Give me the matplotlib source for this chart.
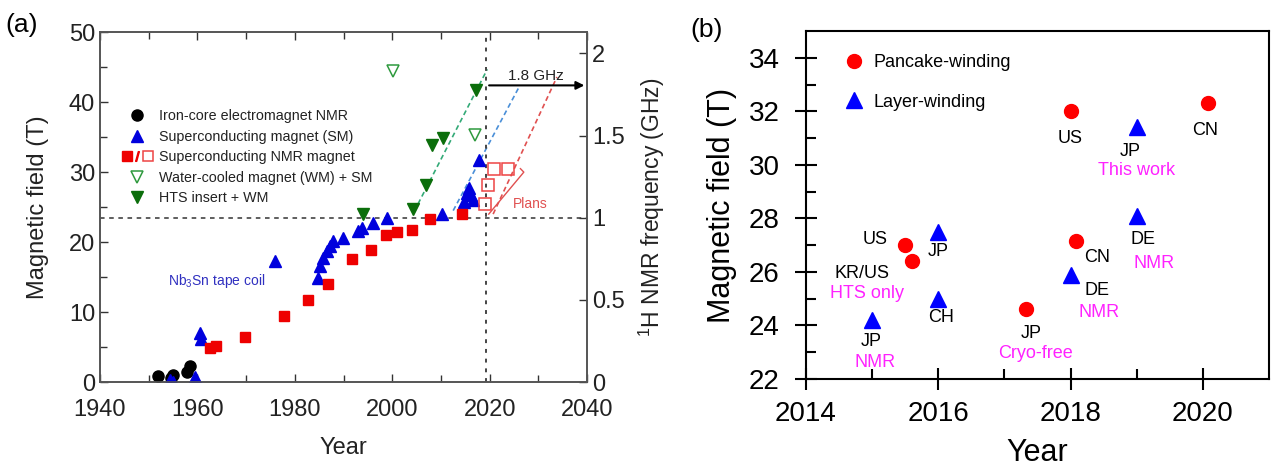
import matplotlib.pyplot as plt
from matplotlib.lines import Line2D
from matplotlib.legend_handler import HandlerTuple

plt.rcParams['font.family'] = ['Liberation Sans', 'DejaVu Sans']
plt.rcParams['mathtext.fontset'] = 'custom'
plt.rcParams['mathtext.rm'] = 'Liberation Sans'

# ---- panel (a): history of high-field magnets ----
iron_year = [1952, 1954.5, 1955, 1957.8, 1958.5]
iron_field = [0.8, 0.6, 1.0, 1.5, 2.3]

sm_year = [1954.4, 1955, 1959.6, 1960.5, 1960.7, 1976, 1984.8, 1985.2, 1985.8,
           1986.6, 1987.2, 1987.8, 1989.9, 1993, 1993.8, 1996, 1998.9, 2010.2,
           2014.8, 2015.3, 2015.8, 2016.2, 2016.5, 2017.8]
sm_field = [0.3, 0.0, 0.7, 7.0, 6.2, 17.3, 14.9, 16.6, 17.7, 18.7, 19.4, 20.1,
            20.6, 21.6, 22.0, 22.7, 23.4, 24.0, 25.8, 27.0, 27.8, 26.8, 26.0, 31.8]

nmr_year = [1962.6, 1963.8, 1969.8, 1977.8, 1982.8, 1986.8, 1991.7, 1995.6,
            1998.7, 2001, 2004, 2007.8, 2014.3]
nmr_field = [4.8, 5.2, 6.4, 9.4, 11.7, 14.0, 17.6, 18.9, 21.0, 21.5, 21.7, 23.3, 24.0]

plan_year = [2019.1, 2019.7, 2020.9, 2023.8]
plan_field = [25.5, 28.1, 30.4, 30.4]

wm_year = [2000.2, 2017.0]
wm_field = [44.4, 35.3]

hts_year = [1994, 2004.3, 2007, 2008.2, 2010.4, 2017.2]
hts_field = [24.0, 24.7, 28.1, 33.9, 34.9, 41.7]

green_trend_year = [2004.5, 2019.5]
green_trend_field = [24.4, 44.7]
blue_trend_year = [2012.5, 2026.2]
blue_trend_field = [24.5, 42.4]
red_trend_year = [2020.7, 2033.8]
red_trend_field = [24.0, 43.6]

ghz_per_tesla = 0.042577
one_ghz_field = 23.49
target_year = 2019.3
target_field = 42.4

# ---- panel (b): recent HTS magnets ----
pancake_year = [2015.5, 2015.6, 2017.33, 2018.0, 2018.08, 2020.08]
pancake_field = [27.0, 26.4, 24.6, 32.0, 27.15, 32.3]
layer_year = [2015.0, 2016.0, 2016.0, 2018.0, 2019.0, 2019.0]
layer_field = [24.2, 27.5, 25.0, 25.9, 31.4, 28.1]

country_text = ['US', 'KR/US', 'JP', 'CH', 'JP', 'JP', 'CN', 'DE', 'DE', 'US', 'CN', 'JP']
country_x = [2015.04, 2014.85, 2016.0, 2016.05, 2014.98, 2017.4, 2018.4, 2018.4,
             2019.1, 2018.0, 2020.04, 2018.9]
country_y = [27.2, 25.95, 26.75, 24.3, 23.4, 23.7, 26.55, 25.3, 27.2, 31.0, 31.3, 30.5]

note_text = ['HTS only', 'NMR', 'Cryo-free', 'NMR', 'NMR', 'This work']
note_x = [2014.92, 2015.04, 2017.47, 2018.43, 2019.27, 2019.0]
note_y = [25.2, 22.6, 22.95, 24.5, 26.3, 29.8]

fig = plt.figure(figsize=(12.72, 4.67), dpi=100)

# ================= (a) =================
axa = fig.add_axes([0.0786, 0.182, 0.383, 0.749])
axa.plot(green_trend_year, green_trend_field, ls=(0, (3, 2)), color='#33aa77', lw=1.2, zorder=1)
axa.plot(blue_trend_year, blue_trend_field, ls=(0, (3, 2)), color='#4a8fd8', lw=1.2, zorder=1)
axa.plot(red_trend_year, red_trend_field, ls=(0, (3, 2)), color='#e05050', lw=1.2, zorder=1)
axa.axhline(one_ghz_field, ls=(0, (3, 3)), color='#333333', lw=1.1, zorder=1)
axa.axvline(target_year, ls=(0, (2, 3)), color='#444444', lw=1.4, zorder=1)

axa.plot(iron_year, iron_field, 'o', color='black', ms=8, ls='none', zorder=3)
axa.plot(sm_year, sm_field, '^', color='#0000dd', ms=8, ls='none', zorder=3)
axa.plot(nmr_year, nmr_field, 's', color='#ee0000', ms=7.5, ls='none', zorder=3)
axa.plot(plan_year, plan_field, 's', mfc='none', mec='#ee4444', mew=1.1, ms=8, ls='none', zorder=3)
axa.plot(wm_year, wm_field, 'v', mfc='none', mec='#2e9a3e', mew=1.1, ms=8, ls='none', zorder=3)
axa.plot(hts_year, hts_field, 'v', color='#0b6e0b', ms=8, ls='none', zorder=3)

axa.annotate('', xy=(2040, target_field), xytext=(target_year, target_field),
             arrowprops=dict(arrowstyle='-|>', color='black', lw=1.5, mutation_scale=12))
axa.text(2029.5, 43.8, '1.8 GHz', fontsize=11, ha='center', va='center', color='#222222')
axa.plot([2019.8, 2027.0, 2026.3], [24.0, 30.0, 30.5], color='#e05050', lw=1)
axa.text(2028.3, 25.4, 'Plans', fontsize=10, color='#e05050', ha='center', va='center')
axa.text(1964.0, 14.5, 'Nb$_3$Sn tape coil', fontsize=10, color='#3030c0', ha='center', va='center')

axa.set_xlim(1940, 2040)
axa.set_ylim(0, 50)
axa.set_xticks(range(1940, 2041, 20))
axa.set_xticks(range(1940, 2041, 10), minor=True)
axa.set_yticks(range(0, 51, 10))
axa.set_yticks(range(0, 51, 5), minor=True)
axa.tick_params(which='both', direction='in', top=True, right=False, width=1,
                colors='#333333', labelcolor='#222222')
axa.tick_params(which='major', length=6, labelsize=17)
axa.tick_params(which='minor', length=5)
axa.tick_params(axis='x', which='major', pad=12)
for s in axa.spines.values():
    s.set_color('#555555')
    s.set_linewidth(1.2)
axa.set_xlabel('Year', fontsize=17, labelpad=12, color='#222222')
axa.set_ylabel('Magnetic field (T)', fontsize=17, labelpad=14, color='#222222')

axr = axa.twinx()
axr.set_ylim(0, 50 * ghz_per_tesla)
axr.set_yticks([0, 0.5, 1, 1.5, 2])
axr.set_yticklabels(['0', '0.5', '1', '1.5', '2'])
axr.tick_params(direction='in', length=6, width=1, labelsize=17,
                colors='#333333', labelcolor='#222222')
axr.set_ylabel('$^1$H NMR frequency (GHz)', fontsize=16.5, labelpad=9, color='#222222')
for s in axr.spines.values():
    s.set_color('#555555')
    s.set_linewidth(1.2)

h_iron = Line2D([], [], marker='o', color='black', ms=8, ls='none')
h_sm = Line2D([], [], marker='^', color='#0000dd', ms=8, ls='none')
h_nmr = (Line2D([], [], marker='s', color='#ee0000', ms=7, ls='none'),
         Line2D([], [], marker='$/$', color='#ee0000', ms=7, ls='none'),
         Line2D([], [], marker='s', mfc='none', mec='#ee4444', mew=1.1, ms=7, ls='none'))
h_wm = Line2D([], [], marker='v', mfc='none', mec='#2e9a3e', mew=1.1, ms=8, ls='none')
h_hts = Line2D([], [], marker='v', color='#0b6e0b', ms=8, ls='none')
axa.legend([h_iron, h_sm, h_nmr, h_wm, h_hts],
           ['Iron-core electromagnet NMR', 'Superconducting magnet (SM)',
            'Superconducting NMR magnet', 'Water-cooled magnet (WM) + SM',
            'HTS insert + WM'],
           handler_map={tuple: HandlerTuple(ndivide=None, pad=0)},
           loc='upper left', bbox_to_anchor=(0.03, 0.80), frameon=False,
           fontsize=10.3, handlelength=2.2, handletextpad=0.4, labelspacing=0.45,
           borderpad=0, labelcolor='#222222')

# ================= (b) =================
axb = fig.add_axes([0.6336, 0.1884, 0.364, 0.745])
axb.plot(pancake_year, pancake_field, 'o', color='#ff0000', ms=10, ls='none', label='Pancake-winding')
axb.plot(layer_year, layer_field, '^', color='#0000ff', ms=11, ls='none', label='Layer-winding')

for t, x, y in zip(country_text, country_x, country_y):
    axb.text(x, y, t, fontsize=13, ha='center', va='center', color='black')
for t, x, y in zip(note_text, note_x, note_y):
    axb.text(x, y, t, fontsize=13, ha='center', va='center', color='#ff22ff')

axb.set_xlim(2014, 2021)
axb.set_ylim(22, 35)
axb.set_xticks([2014, 2016, 2018, 2020])
axb.set_xticks([2015, 2017, 2019], minor=True)
axb.set_yticks(range(22, 35, 2))
axb.set_yticks(range(23, 35, 2), minor=True)
axb.tick_params(which='major', direction='inout', length=16, width=1.5, labelsize=20, pad=8)
axb.tick_params(axis='y', which='major', pad=11)
axb.tick_params(which='minor', direction='in', length=7, width=1.5)
for s in axb.spines.values():
    s.set_linewidth(1.5)
axb.set_xlabel('Year', fontsize=22, labelpad=8)
axb.set_ylabel('Magnetic field (T)', fontsize=22, labelpad=8)
axb.legend(loc='upper left', bbox_to_anchor=(0.065, 0.96), frameon=False, fontsize=13,
           handlelength=1.0, handletextpad=0.6, labelspacing=1.25, borderpad=0)

fig.text(0.004, 0.946, '(a)', fontsize=19, va='center')
fig.text(0.5425, 0.936, '(b)', fontsize=19, va='center')

fig.savefig('out.png', dpi=100)
